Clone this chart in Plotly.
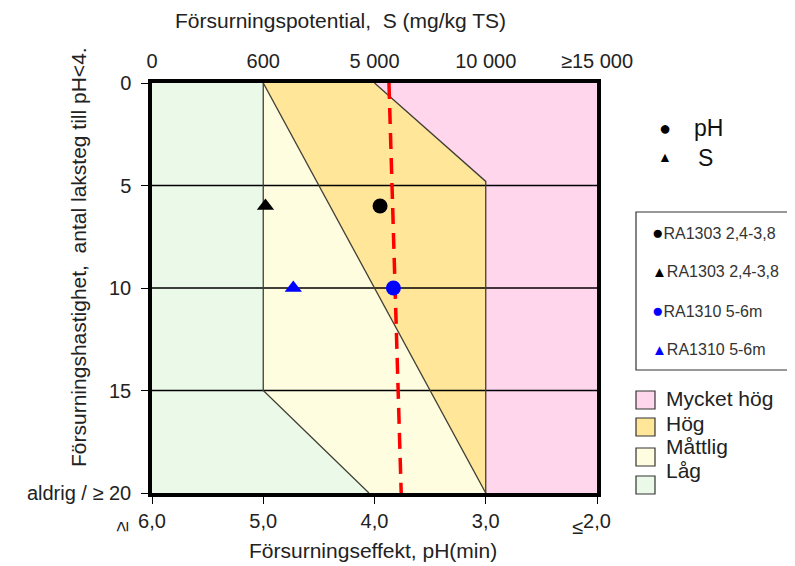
import plotly.graph_objects as go

# ---------------- data ----------------
ph_ticks = [6, 5, 4, 3, 2]
ph_tick_text = ["6,0", "5,0", "4,0", "3,0", "2,0"]
s_tick_text = ["0", "600", "5 000", "10 000", "≥15 000"]
y_ticks = [0, 5, 10, 15, 20]
y_tick_text = ["0", "5", "10", "15", "aldrig / ≥ 20"]

# class regions (pH, steps)
lag_x = [6, 5, 5, 4.05, 6]
lag_y = [0, 0, 15, 20, 20]
mattlig_x = [5, 3, 4.05, 5]
mattlig_y = [0, 20, 20, 15]
hog_x = [5, 4, 3, 3]
hog_y = [0, 0, 4.8, 20]
mycket_x = [4, 2, 2, 3, 3]
mycket_y = [0, 0, 20, 20, 4.8]

# boundary lines
b1_x = [5, 5, 4.05]; b1_y = [0, 15, 20]
b2_x = [5, 3]; b2_y = [0, 20]
b3_x = [4, 3, 3]; b3_y = [0, 4.8, 20]

# red dashed reference line
red_x = [3.87, 3.76]; red_y = [0, 20]

# samples
samples = [
    ("RA1303 2,4-3,8", "pH", 3.95, 6, "black"),
    ("RA1303 2,4-3,8", "S", 4.98, 6, "black"),
    ("RA1310 5-6m", "pH", 3.83, 10, "blue"),
    ("RA1310 5-6m", "S", 4.73, 10, "blue"),
]

classes = ["Mycket hög", "Hög", "Måttlig", "Låg"]
class_colors = ["#FFD6EC", "#FFE699", "#FFFDDF", "#EAF9E8"]

FONT = "Liberation Sans, Arial, sans-serif"
TXT = "#222"

fig = go.Figure()

for xs, ys, col in [(lag_x, lag_y, class_colors[3]), (mattlig_x, mattlig_y, class_colors[2]),
                    (hog_x, hog_y, class_colors[1]), (mycket_x, mycket_y, class_colors[0])]:
    fig.add_trace(go.Scatter(x=xs, y=ys, fill="toself", fillcolor=col, mode="none",
                             showlegend=False, hoverinfo="skip"))

# horizontal grid lines on top of fills
for yv in y_ticks[1:-1]:
    fig.add_trace(go.Scatter(x=[ph_ticks[0], ph_ticks[-1]], y=[yv, yv], mode="lines",
                             line=dict(color="black", width=1.3), showlegend=False, hoverinfo="skip"))

for xs, ys in [(b1_x, b1_y), (b2_x, b2_y), (b3_x, b3_y)]:
    fig.add_trace(go.Scatter(x=xs, y=ys, mode="lines", line=dict(color="#3f3f35", width=1.3),
                             showlegend=False, hoverinfo="skip"))

fig.add_trace(go.Scatter(x=red_x, y=red_y, mode="lines",
                         line=dict(color="#FF0000", width=3.5, dash="16px,9px"),
                         showlegend=False, hoverinfo="skip"))

for name, kind, xv, yv, col in samples:
    fig.add_trace(go.Scatter(x=[xv], y=[yv], mode="markers", name=name,
                             marker=dict(symbol="circle" if kind == "pH" else "triangle-up",
                                         size=15, color=col),
                             showlegend=False))

# dummy trace for top axis
fig.add_trace(go.Scatter(x=[ph_ticks[0], ph_ticks[-1]], y=[0, 0], xaxis="x2", mode="none",
                         showlegend=False, hoverinfo="skip"))

fig.update_layout(
    width=787, height=558,
    margin=dict(l=144, r=198, t=75, b=73),
    paper_bgcolor="white", plot_bgcolor="white",
    font=dict(family=FONT, size=20, color=TXT),
    xaxis=dict(range=[6, 2], tickvals=ph_ticks, ticktext=ph_tick_text, showgrid=False,
               zeroline=False, ticks="outside", ticklen=7, tickwidth=1.3, tickcolor="black",
               showline=True, linewidth=3.5, linecolor="black", mirror=True,
               ticklabelstandoff=0),
    xaxis2=dict(range=[6, 2], overlaying="x", side="top", tickvals=ph_ticks, ticktext=s_tick_text,
                showgrid=False, zeroline=False, ticks="outside", ticklen=6,
                tickcolor="rgba(0,0,0,0)", showline=False),
    yaxis=dict(range=[20, 0], tickvals=y_ticks, ticktext=y_tick_text, showgrid=False,
               zeroline=False, ticks="outside", ticklen=7, tickwidth=1.3, tickcolor="black",
               showline=True, linewidth=3.5, linecolor="black", mirror=True,
               ticklabelstandoff=6),
)

def px(xp):
    return (xp - 152) / 445.0

def py(yp):
    return (493 - yp) / 410.0

def note(text, x, y, size, xanchor="center", color=TXT, angle=0):
    return dict(text=text, x=px(x), y=py(y), xref="paper", yref="paper", showarrow=False,
                xanchor=xanchor, yanchor="middle", textangle=angle,
                font=dict(size=size, color=color, family=FONT))

ann = []
ann.append(note("Försurningspotential,  S (mg/kg TS)", 340, 20, 21))
ann.append(note("Försurningseffekt, pH(min)", 373, 550, 21))
ann.append(note("Försurningshastighet,  antal laksteg till pH<4.", 78, 257, 21, angle=-90))
ann.append(note("≥", 121, 527, 19, angle=-90))
ann.append(note("≤", 577, 527, 20))

# symbol legend
ann.append(note("●", 665, 128, 20, color="black"))
ann.append(note("pH", 692, 128, 23, xanchor="left", color="#111"))
ann.append(note("▲", 665, 157, 14, color="black"))
ann.append(note("S", 696, 158, 23, xanchor="left", color="#111"))

# sample legend
for i, (name, kind, xv, yv, col) in enumerate(samples):
    sym = "●" if kind == "pH" else "▲"
    sz = 19 if kind == "pH" else 15
    ann.append(note(f"<span style='color:{col};font-size:{sz}px'>{sym}</span>{name}", 650,
                    232 + 39 * i, 16, xanchor="left", color="#333"))

shapes = [dict(type="rect", xref="paper", yref="paper", x0=px(636), x1=px(805), y0=py(370), y1=py(212),
               line=dict(color="#333", width=1.2), fillcolor="rgba(0,0,0,0)")]

sq_tops = [391, 418, 448, 476]
lbl_y = [398, 423, 446, 470]
for i, cname in enumerate(classes):
    shapes.append(dict(type="rect", xref="paper", yref="paper", x0=px(636), x1=px(655),
                       y0=py(sq_tops[i] + 18), y1=py(sq_tops[i]),
                       line=dict(color="#333", width=1.2), fillcolor=class_colors[i]))
    ann.append(note(cname, 664, lbl_y[i], 21, xanchor="left"))

fig.update_layout(annotations=ann, shapes=shapes)

fig.write_html("out.html")
